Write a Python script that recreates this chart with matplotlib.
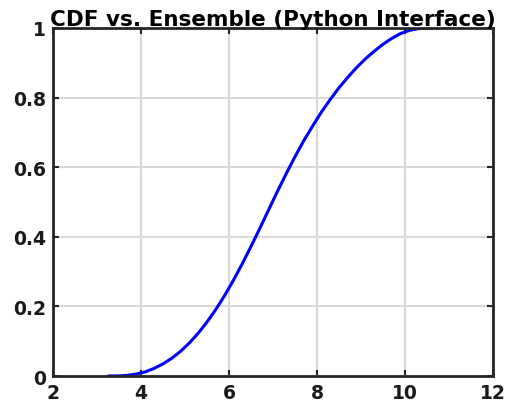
import matplotlib
matplotlib.use("Agg")
import matplotlib.pyplot as plt

ensemble = [3.27, 3.5, 3.7, 3.9, 4.1, 4.3, 4.5, 4.7, 4.9, 5.1, 5.3, 5.5, 5.7, 5.9,
            6.1, 6.3, 6.5, 6.7, 6.9, 7.1, 7.3, 7.5, 7.7, 7.9, 8.1, 8.3, 8.5, 8.7,
            8.9, 9.1, 9.3, 9.5, 9.7, 9.9, 10.1, 10.3, 10.5, 10.76]
cdf = [0.0, 0.0004, 0.002, 0.006, 0.012, 0.022, 0.035, 0.051, 0.071, 0.095, 0.123,
       0.155, 0.191, 0.231, 0.275, 0.322, 0.372, 0.424, 0.477, 0.530, 0.581, 0.630,
       0.676, 0.718, 0.758, 0.794, 0.828, 0.858, 0.886, 0.911, 0.933, 0.953, 0.970,
       0.984, 0.993, 0.998, 0.9998, 1.0]

xticks = [2, 4, 6, 8, 10, 12]
yticks = [0, 0.2, 0.4, 0.6, 0.8, 1]
ytick_labels = ["0", "0.2", "0.4", "0.6", "0.8", "1"]

fig = plt.figure(figsize=(5.15, 4.06), dpi=100)
ax = fig.add_axes([0.103, 0.0714, 0.854, 0.8572])

ax.plot(ensemble, cdf, color="blue", linewidth=2.2)

ax.set_xlim(2, 12)
ax.set_ylim(0, 1)
ax.set_xticks(xticks)
ax.set_yticks(yticks)
ax.set_yticklabels(ytick_labels)
ax.tick_params(direction="in", length=4, width=1.5, colors="0.15",
               labelsize=13.5, top=True, right=True, pad=5)
for lab in ax.get_xticklabels() + ax.get_yticklabels():
    lab.set_fontweight("bold")
    lab.set_color("0.1")
for s in ax.spines.values():
    s.set_linewidth(2)
    s.set_color("0.15")

ax.grid(True, color="0.85", linewidth=1.5)
ax.set_axisbelow(True)
ax.set_title("CDF vs. Ensemble (Python Interface)", fontsize=15.5,
             fontweight="bold", pad=2)

plt.savefig("out.png", dpi=100)
